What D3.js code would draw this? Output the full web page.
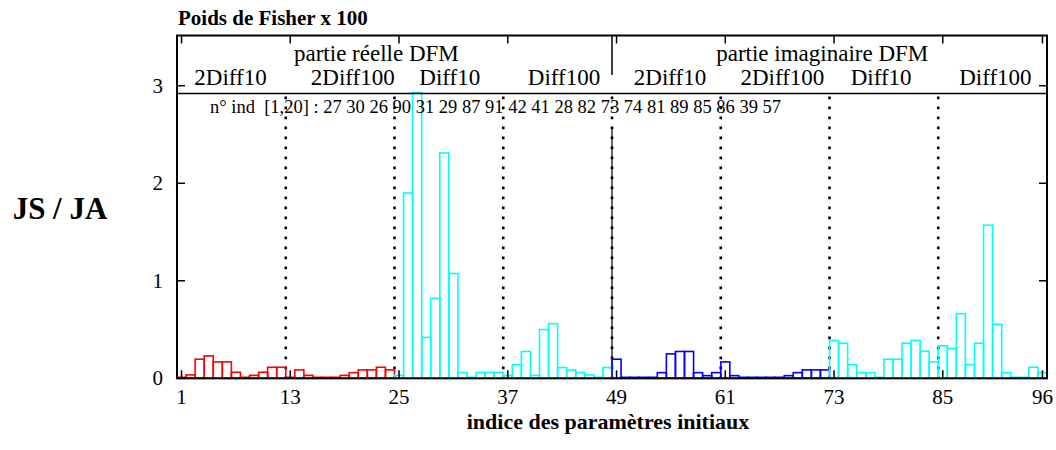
<!DOCTYPE html>
<html>
<head>
<meta charset="utf-8">
<script src="https://cdn.jsdelivr.net/npm/d3@7"></script>
<style>
  html, body { margin: 0; padding: 0; background: #fff; }
  svg text { font-family: "Liberation Serif", "Times New Roman", Times, serif; white-space: pre; }
</style>
</head>
<body>
<svg id="chart" width="1056" height="450"></svg>
<script>
// ---------------- data ----------------
const title = "Poids de Fisher x 100";
const yTitle = "JS / JA";
const xTitle = "indice des paramètres initiaux";
const xTicks = [1, 13, 25, 37, 49, 61, 73, 85, 96];
const yTicks = [0, 1, 2, 3];

// indices 1..24 (partie réelle, 2Diff10 + 2Diff100)
const redValues = [0.01, 0.035, 0.196, 0.23, 0.168, 0.168, 0.062, 0.01, 0.03, 0.062, 0.113, 0.113,
                   0.01, 0.086, 0.03, 0.01, 0.01, 0.01, 0.03, 0.058, 0.086, 0.086, 0.113, 0.086];
// indices 25..48 (partie réelle, Diff10 + Diff100)
const cyanValuesA = [0.03, 1.90, 2.93, 0.42, 0.82, 2.31, 1.075, 0.06, 0.01, 0.06, 0.06, 0.06,
                     0.03, 0.14, 0.275, 0.03, 0.50, 0.56, 0.11, 0.085, 0.06, 0.035, 0.01, 0.11];
// indices 49..72 (partie imaginaire, 2Diff10 + 2Diff100)
const blueValues = [0.196, 0.01, 0.01, 0.01, 0.01, 0.058, 0.25, 0.275, 0.275, 0.058, 0.027, 0.058,
                    0.168, 0.027, 0.01, 0.01, 0.01, 0.01, 0.01, 0.027, 0.058, 0.086, 0.086, 0.086];
// indices 73..96 (partie imaginaire, Diff10 + Diff100)
const cyanValuesB = [0.388, 0.36, 0.14, 0.058, 0.058, 0.01, 0.196, 0.196, 0.36, 0.388, 0.278, 0.168,
                     0.333, 0.306, 0.663, 0.14, 0.36, 1.57, 0.553, 0.058, 0.01, 0.01, 0.113, 0.058];

const groupLabels = ["partie réelle DFM", "partie imaginaire DFM"];
const sectionLabels = ["2Diff10", "2Diff100", "Diff10", "Diff100", "2Diff10", "2Diff100", "Diff10", "Diff100"];
const sectionBounds = [12.5, 24.5, 36.5, 48.5, 60.5, 72.5, 84.5];
const indText = "n° ind  [1,20] : 27 30 26 90 31 29 87 91 42 41 28 82 73 74 81 89 85 86 39 57";
const headerLineValue = 2.92;

// ---------------- layout ----------------
const svg = d3.select("#chart");
const L = 177, R = 1047, B = 378.3, T = 35.5;
const x = d3.scaleLinear().domain([0.5, 96.5]).range([L, R]);
const y = d3.scaleLinear().domain([0, 3.515]).range([B, T]);

svg.append("rect").attr("width", 1056).attr("height", 450).attr("fill", "#fff");

const series = [
  { start: 1, values: redValues, color: "#ff0000" },
  { start: 25, values: cyanValuesA, color: "#00ffff" },
  { start: 49, values: blueValues, color: "#0000ff" },
  { start: 73, values: cyanValuesB, color: "#00ffff" }
];

// vertical dotted separators (below header line)
const gSep = svg.append("g");
sectionBounds.forEach(b => {
  gSep.append("line")
    .attr("x1", x(b)).attr("x2", x(b))
    .attr("y1", y(headerLineValue) + 3).attr("y2", B)
    .attr("stroke", "#000").attr("stroke-width", 2.6)
    .attr("stroke-dasharray", "2.6,7.4");
});
// solid separator between real and imaginary parts
svg.append("line").attr("x1", x(48.5)).attr("x2", x(48.5))
  .attr("y1", y(2.58)).attr("y2", B).attr("stroke", "#000").attr("stroke-width", 1.2);
svg.append("line").attr("x1", x(48.5)).attr("x2", x(48.5))
  .attr("y1", T).attr("y2", y(3.11)).attr("stroke", "#000").attr("stroke-width", 1.5);

// bars (outlined boxes)
const gBars = svg.append("g");
series.forEach(s => {
  gBars.selectAll(null)
    .data(s.values.map((v, i) => ({ idx: s.start + i, v })))
    .enter().append("rect")
    .attr("x", d => x(d.idx - 0.5))
    .attr("width", d => x(d.idx + 0.5) - x(d.idx - 0.5))
    .attr("y", d => y(d.v))
    .attr("height", d => y(0) - y(d.v))
    .attr("fill", "none")
    .attr("stroke", s.color)
    .attr("stroke-width", 1.6);
});

// header line
svg.append("line").attr("x1", L).attr("x2", R)
  .attr("y1", y(headerLineValue)).attr("y2", y(headerLineValue))
  .attr("stroke", "#000").attr("stroke-width", 1.5);

// frame
svg.append("rect").attr("x", L).attr("y", T).attr("width", R - L).attr("height", B - T)
  .attr("fill", "none").attr("stroke", "#000").attr("stroke-width", 2);

// ticks
const gTicks = svg.append("g").attr("stroke", "#000").attr("stroke-width", 1.5);
yTicks.forEach(t => {
  gTicks.append("line").attr("x1", L).attr("x2", L + 8).attr("y1", y(t)).attr("y2", y(t));
  gTicks.append("line").attr("x1", R).attr("x2", R - 8).attr("y1", y(t)).attr("y2", y(t));
});
xTicks.forEach(t => {
  gTicks.append("line").attr("x1", x(t)).attr("x2", x(t)).attr("y1", B).attr("y2", B - 8);
  gTicks.append("line").attr("x1", x(t)).attr("x2", x(t)).attr("y1", T).attr("y2", T + 8);
});

// tick labels
svg.append("g").selectAll("text").data(yTicks).enter().append("text")
  .attr("x", 163).attr("y", d => y(d) + 7)
  .attr("text-anchor", "end").attr("font-size", 21).text(d => d);
svg.append("g").selectAll("text").data(xTicks).enter().append("text")
  .attr("x", d => x(d)).attr("y", 404)
  .attr("text-anchor", "middle").attr("font-size", 21).text(d => d);

// titles
svg.append("text").attr("x", 178).attr("y", 25).attr("font-size", 21).attr("font-weight", "bold").text(title);
svg.append("text").attr("x", 60).attr("y", 219).attr("text-anchor", "middle")
  .attr("font-size", 31).attr("font-weight", "bold").text(yTitle);
svg.append("text").attr("x", 608).attr("y", 429).attr("text-anchor", "middle")
  .attr("font-size", 22).attr("font-weight", "bold").text(xTitle);

// header labels
const groupX = [22.5, 71.7];
groupLabels.forEach((g, i) => {
  svg.append("text").attr("x", x(groupX[i])).attr("y", y(3.25))
    .attr("text-anchor", "middle").attr("font-size", 23).text(g);
});
const sectionX = [6.4, 19.9, 30.6, 43.2, 54.9, 67.3, 78.2, 90.8];
sectionLabels.forEach((s, i) => {
  svg.append("text").attr("x", x(sectionX[i])).attr("y", y(3.01))
    .attr("text-anchor", "middle").attr("font-size", 23).text(s);
});
svg.append("text").attr("x", 210).attr("y", y(2.72)).attr("font-size", 18.5).text(indText);
</script>
</body>
</html>
